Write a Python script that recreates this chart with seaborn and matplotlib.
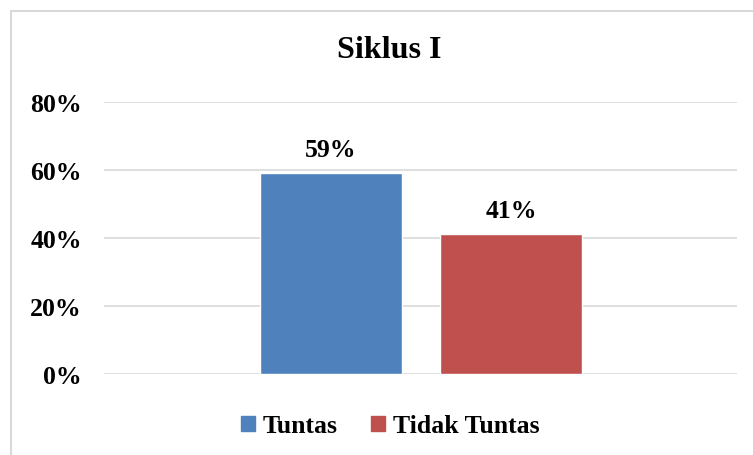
import pandas as pd
import seaborn as sns
import matplotlib.pyplot as plt
from matplotlib.patches import Rectangle
from matplotlib.ticker import PercentFormatter

# data
categories = ['Tuntas', 'Tidak Tuntas']
values = [0.59, 0.41]
colors = ['#4F81BD', '#C0504D']
title = 'Siklus I'

df = pd.DataFrame({'Kategori': categories, 'Nilai': values})

sns.set_style('white')
plt.rcParams['font.family'] = ['Liberation Serif', 'DejaVu Serif']
plt.rcParams['font.weight'] = 'bold'
plt.rcParams['text.color'] = 'black'
plt.rcParams['ytick.color'] = 'black'

fig = plt.figure(figsize=(7.53, 4.56), dpi=100)
ax = fig.add_axes([104 / 753, 1 - 374.7 / 456, 633 / 753, 271.7 / 456])

sns.barplot(data=df, x='Kategori', y='Nilai', hue='Kategori',
            palette=colors, width=0.789, legend=False, ax=ax, saturation=1)

ax.set_ylim(0, 0.8)
ax.set_xlim(-1.261, 2.256)
ax.set_yticks([0, 0.2, 0.4, 0.6, 0.8])
ax.yaxis.set_major_formatter(PercentFormatter(1.0, decimals=0))
ax.set_xticks([])
ax.set_xlabel('')
ax.set_ylabel('')
ax.grid(axis='y', color='#D9D9D9', linewidth=1.2)
ax.set_axisbelow(True)
for s in ax.spines.values():
    s.set_visible(False)
ax.tick_params(axis='y', length=0, pad=16, labelsize=18.5, labelcolor='black')
for lbl in ax.get_yticklabels():
    lbl.set_fontweight('bold')

for cont in ax.containers:
    ax.bar_label(cont, labels=[f'{v * 100:.0f}%' for v in cont.datavalues],
                 padding=9, fontsize=18.5, fontweight='bold', color='black')

fig.text(389 / 753, 1 - 51 / 456, title, ha='center', va='center',
         fontsize=23, fontweight='bold', color='black')

handles = [Rectangle((0, 0), 1, 1, color=c) for c in colors]
fig.legend(handles, categories, loc='center', bbox_to_anchor=(390 / 753, 1 - 427 / 456),
           ncol=2, frameon=False, handlelength=0.55, handleheight=0.55,
           handletextpad=0.3, columnspacing=1.3, labelcolor='black',
           prop={'size': 18.5, 'weight': 'bold'})

# chart border
fig.patches.append(Rectangle((11 / 753, -0.05), 1.0, 1 - 12 / 456 + 0.05,
                             transform=fig.transFigure, fill=False,
                             edgecolor='#D9D9D9', linewidth=1.5))

fig.savefig('out.png', dpi=100)
